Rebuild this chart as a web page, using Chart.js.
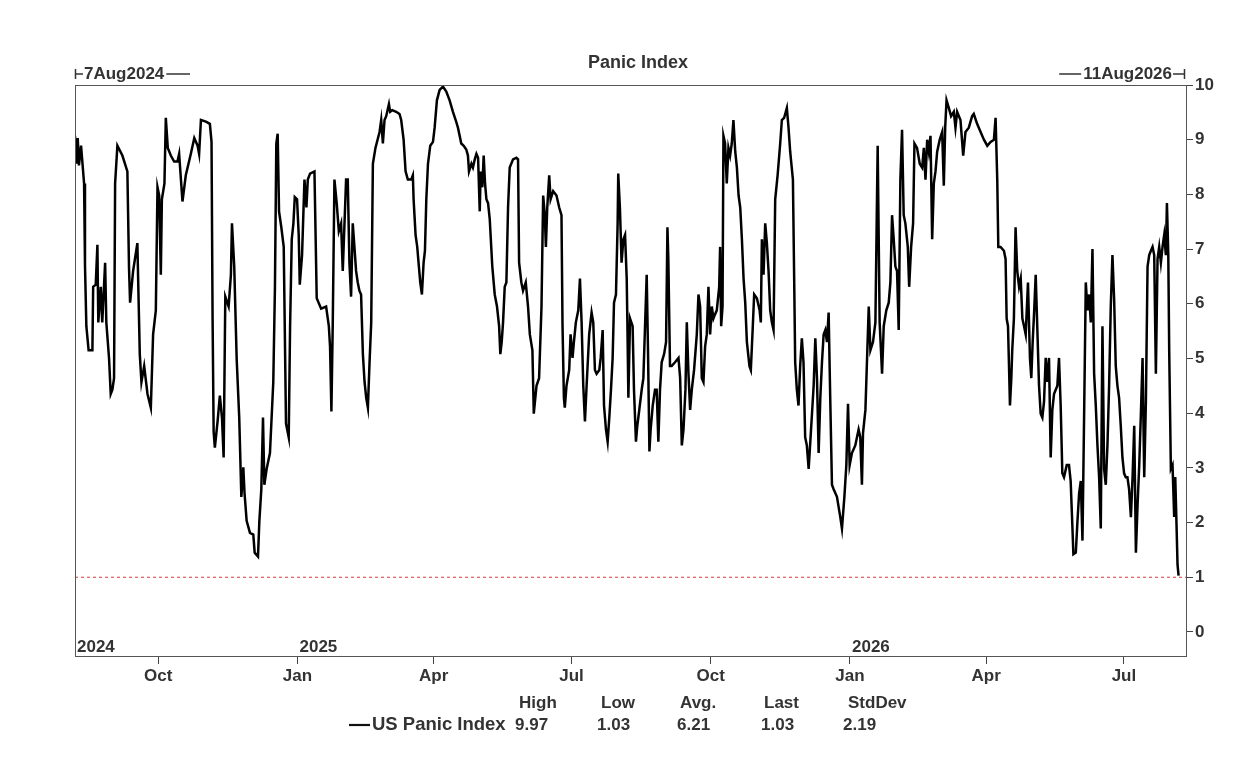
<!DOCTYPE html>
<html><head><meta charset="utf-8">
<script src="https://cdn.jsdelivr.net/npm/chart.js@4.4.1/dist/chart.umd.min.js"></script>
<style>html,body{margin:0;padding:0;background:#fff;}canvas{display:block;}</style>
</head><body>
<canvas id="c" width="1258" height="784"></canvas>
<script>
const chartTitle = "Panic Index";
const startLabel = "7Aug2024";
const endLabel = "11Aug2026";
const seriesName = "US Panic Index";
const totalDays = 734; // 7Aug2024 .. 11Aug2026

// days since 7Aug2024
const days = [
0,0.9,1.8,2.6,4,6,6.6,7.5,9,11.5,
12,13.7,14.8,15.4,17,18,19.9,20.7,22.5,23.6,
24.7,25.8,26.5,28,31.3,34.6,35.7,36.4,38.4,41.2,
42.8,43.9,45.7,47.9,50.1,51.6,53.4,54.5,55.6,56.7,
57.4,59.1,60,61.3,63.3,65.5,67.7,68.8,71,73.2,
76.5,78.8,81,82,83.2,86.5,89.1,90.2,90.9,91.6,
92.4,94.2,95.7,97.1,98.2,99.3,101.5,103,103.7,105.2,
106.8,108.5,109.9,111.2,112,113.4,115.6,117.8,118.7,120.9,
121.8,123.1,124.2,125.1,126.6,128.8,131,132.1,133,133.9,
134.8,136.3,137.9,139.4,141.2,142.1,143.2,144.3,145.2,146.7,
147.8,148.5,150,151.6,152.9,153.8,155.3,158.2,159.7,162.6,
165.9,167.7,168.5,169.4,170.3,171.4,172.9,174.3,175.8,176.9,
179.1,180.2,181.3,182.4,183.5,184.6,185.7,186.8,187.9,189.0,
190.2,191.3,192.4,193.5,194.6,195.7,196.8,198.5,201.2,202.3,
203.4,204.5,205.6,207.4,208.2,209.6,212.2,214.4,215.5,217.1,
218.4,219.9,222.1,223.2,223.7,225.0,226.1,227.2,228.1,229.2,
230.3,231.2,232.1,233.2,234.7,236.5,237.6,239.1,240.9,243.1,
245.3,247.5,249.7,251.5,253.0,255.2,256.8,258.5,259.6,260.3,
261.9,262.9,264.1,265.2,266.3,267.4,268.0,269.1,270.0,270.9,
271.8,272.9,274.0,275.7,277.3,278.8,280.2,281.0,281.9,282.8,
283.9,285.0,286.1,287.2,289.4,291.6,292.7,293.4,294.9,296.0,
297.8,299.3,300.5,302.2,303.1,304.9,306.6,
308.2,309.3,310.4,311.1,312.0,313.3,314.2,315.9,318.1,319.9,
321.4,322.1,323.0,323.6,324.7,326.5,327.4,328.7,329.6,330.9,
332.5,333.6,334.7,335.8,336.9,338.0,339.7,341.3,342.4,343.5,
344.6,346.4,347.3,348.6,349.5,350.8,351.9,353.0,354.1,355.2,
356.1,357.4,358.5,358.9,360.0,361.1,362.3,363.4,364.5,364.9,
365.6,366.7,368.4,369.3,370.6,371.5,372.8,374.4,375.5,376.6,
377.7,378.6,379.5,380.3,381.7,383.2,384.3,385.4,386.5,387.6,
389.2,390.5,391.4,392.0,393.1,394.2,396.4,398.7,399.8,400.9,
402.0,403.3,404.2,405.3,406.4,407.5,409.0,410.8,411.9,413.0,
414.1,415.2,416.3,417.4,418.5,419.6,420.7,421.8,422.9,424.0,
425.6,426.2,426.9,427.8,428.4,429.5,430.6,431.7,432.8,433.9,
435.0,436.2,437.3,438.4,439.5,440.6,441.7,442.8,443.9,445.6,
446.5,447.8,448.7,450.5,452.3,453.1,453.8,454.9,456.0,457.1,
458.2,459.3,460.4,461.5,462.6,464.2,465.9,
467.0,468.5,470.3,471.4,472.5,474.3,475.2,475.8,476.9,478.0,
479.1,480.2,481.3,482.4,483.5,484.7,485.8,486.9,488.0,489.1,
490.2,491.3,492.4,493.5,494.6,495.7,496.8,497.9,499.0,500.1,
501.2,503.4,505.6,506.7,508.3,509.6,510.7,511.8,513.3,515.5,
517.7,518.8,519.9,520.6,522.2,523.3,524.4,525.5,527.2,528.8,
530.3,531.6,533.2,534.3,536.0,537.6,538.7,539.8,540.9,542.0,
543.1,544.2,545.3,546.4,547.5,548.6,550.2,551.1,552.4,553.7,
554.6,556.3,558.1,559.7,560.8,561.9,563.0,564.1,565.2,566.3,
567.4,568.5,569.6,571.3,572.9,574.0,574.9,575.8,577.3,578.8,
580.6,581.7,582.8,585.0,586.8,588.3,590.5,592.7,593.8,596.0,
598.3,600.5,602.7,604.9,
607.1,608.2,609.3,610.0,611.5,613.7,614.8,615.5,616.4,617.0,
617.7,618.6,619.2,620.3,621.4,622.5,623.7,624.8,625.9,627.0,
628.1,629.6,630.9,631.8,632.7,633.6,634.7,635.8,636.9,638.0,
639.1,640.2,641.3,642.4,643.5,644.6,645.7,646.8,649.0,650.1,
651.2,652.3,653.4,655.2,656.7,657.8,658.9,659.6,661.2,662.3,
663.4,664.5,665.6,666.7,667.8,668.9,670.0,671.1,672.2,673.3,
674.4,675.5,676.6,677.7,678.8,679.9,681.0,682.1,683.2,684.3,
685.4,686.5,687.6,688.7,689.8,690.9,692.0,693.1,694.2,695.3,
696.4,697.6,698.7,699.8,700.9,702.0,703.1,704.2,705.3,706.4,
707.5,708.6,709.7,710.8,711.9,713.0,714.1,715.2,716.3,717.4,
718.5,719.6,720.7,721.4,722.3,722.9,724.0,725.1,726.2,726.9,
727.8,728.4,729.1
];

const values = [
9.07,8.56,9.03,8.53,8.89,8.20,6.71,5.59,5.15,5.15,
6.31,6.35,7.08,5.66,6.31,5.66,6.75,5.66,5.00,4.35,
4.43,4.64,8.20,8.89,8.71,8.42,6.64,6.02,6.60,7.11,
5.08,4.57,4.86,4.35,4.10,5.44,5.88,8.13,7.98,6.53,
7.91,8.20,9.40,8.85,8.71,8.60,8.60,8.74,7.87,8.35,
8.74,9.03,8.89,8.74,9.36,9.33,9.29,8.96,5.73,3.66,
3.37,3.85,4.32,3.92,3.19,6.13,5.95,6.53,7.47,6.68,
5.00,3.92,2.47,3.01,2.54,2.03,1.81,1.78,1.45,1.38,
2.03,2.61,3.92,2.69,2.98,3.27,4.57,6.31,8.93,9.11,
7.69,7.40,7.04,3.81,3.56,5.59,7.18,7.47,7.95,7.91,
7.26,6.35,6.89,8.27,7.76,8.27,8.38,8.42,6.10,5.91,
5.95,5.59,5.22,4.03,5.66,8.27,7.84,7.33,7.47,6.60,
8.27,8.27,6.75,6.13,7.47,7.04,6.60,6.39,6.24,6.17,
5.08,4.57,4.28,4.10,4.93,5.66,8.56,8.85,9.14,9.36,
8.93,9.36,9.43,9.65,9.51,9.54,9.51,9.47,9.36,9.00,
8.42,8.27,8.27,8.35,7.91,7.26,7.04,6.68,6.39,6.17,
6.75,6.97,7.91,8.56,8.89,8.96,9.22,9.72,9.91,9.97,
9.88,9.72,9.51,9.36,9.22,8.93,8.89,8.82,8.71,8.42,
8.56,8.49,8.64,8.74,8.67,7.69,8.42,8.13,8.71,8.20,
7.91,7.84,7.55,6.68,6.17,5.95,5.59,5.08,5.30,5.66,
6.31,6.39,7.76,8.49,8.64,8.67,8.64,6.75,6.39,6.24,
6.39,5.95,5.44,5.15,3.99,4.50,4.64,
5.95,7.98,7.62,7.04,7.76,8.35,7.91,8.06,7.98,7.76,
7.62,5.59,4.28,4.10,4.50,4.79,5.44,5.01,5.30,5.66,
5.88,6.46,5.66,4.50,3.85,4.50,5.44,5.84,5.66,4.79,
4.72,4.79,5.01,5.52,4.14,3.70,3.48,3.92,4.43,5.01,
6.02,6.17,7.47,8.38,7.76,6.75,7.18,7.26,6.46,5.73,
4.28,5.73,5.59,4.43,3.48,3.77,4.06,4.43,4.64,5.59,
6.53,5.08,3.30,3.70,4.14,4.43,4.43,3.48,4.43,4.93,
5.08,5.30,7.40,6.82,4.86,4.86,4.93,5.01,4.64,3.41,
3.70,4.43,5.66,4.72,4.06,4.43,4.79,5.44,6.17,5.95,
4.64,4.57,5.22,5.44,6.31,5.44,5.95,5.73,5.81,5.88,
6.31,7.04,5.59,5.95,9.07,8.93,8.20,8.85,8.71,8.93,
9.36,8.78,8.49,7.98,7.76,7.18,6.46,6.02,5.30,4.86,
4.79,5.59,6.17,6.10,5.88,5.66,7.18,6.53,7.47,7.11,
6.60,5.88,5.66,5.52,7.91,8.35,8.93,
9.36,9.40,9.58,9.22,8.78,8.27,6.31,4.93,4.43,4.14,
4.86,5.37,4.93,3.56,3.41,2.98,3.48,3.99,4.50,5.37,
4.64,3.27,4.28,4.93,5.44,5.52,5.30,5.84,4.21,2.69,
2.61,2.47,2.10,1.89,2.47,3.05,4.17,3.05,3.27,3.41,
3.70,3.56,2.69,3.63,4.06,5.01,5.95,5.15,5.30,5.66,
8.89,5.66,4.72,5.59,5.88,6.02,6.39,7.62,7.18,6.68,
6.60,5.52,8.27,9.18,7.62,7.47,7.04,6.31,7.04,7.47,
8.93,8.85,8.56,8.49,8.85,8.27,9.00,8.78,9.07,7.18,
8.20,8.42,8.78,9.00,9.14,8.16,9.22,9.72,9.58,9.43,
9.51,9.22,9.51,9.36,8.71,9.14,9.22,9.43,9.47,9.29,
9.14,9.00,8.89,8.96,
9.00,9.40,8.27,7.04,7.04,6.97,6.82,5.73,5.59,4.93,
4.14,4.64,5.15,5.73,7.40,6.60,6.31,6.46,5.73,5.59,
5.44,6.39,5.01,4.64,5.30,5.81,6.53,5.52,4.50,3.99,
3.92,4.21,5.01,4.57,5.01,3.19,4.06,4.35,4.50,5.01,
4.14,2.90,2.83,3.05,3.05,2.76,1.96,1.42,1.45,2.03,
2.54,2.76,1.67,3.99,6.39,5.88,6.17,5.66,7.00,4.72,
4.14,3.41,2.83,1.89,5.59,2.98,2.69,3.41,4.50,5.95,
6.89,6.10,4.86,4.50,4.28,3.77,3.19,2.90,2.83,2.83,
2.61,2.10,2.83,3.77,1.45,2.32,3.05,3.99,5.01,2.83,
4.21,6.68,6.89,6.97,7.04,6.89,4.72,6.82,7.04,6.75,
7.04,7.26,6.89,7.84,6.89,5.15,2.98,3.05,2.10,2.83,
1.89,1.23,1.03
];

const monthTickDays = [55,147,237,328,420,512,602,693];
const monthTickLabels = ["Oct","Jan","Apr","Jul","Oct","Jan","Apr","Jul"];
const yearDays = [0,147,512];
const yearLabels = ["2024","2025","2026"];
const yTicks = [0,1,2,3,4,5,6,7,8,9,10];
const refLevel = 1;
const statNames = ["High","Low","Avg.","Last","StdDev"];
const statValues = ["9.97","1.03","6.21","1.03","2.19"];

const FONT = '"Liberation Sans", Arial, sans-serif';
const TXT = '#333';

const decor = {
  id: 'decor',
  afterDraw(chart) {
    const {ctx, chartArea: a, scales} = chart;
    const xs = scales.x;
    ctx.save();
    // frame
    ctx.strokeStyle = '#555'; ctx.lineWidth = 1;
    ctx.strokeRect(Math.round(a.left) + 0.5, Math.round(a.top) + 0.5, Math.round(a.right - a.left), Math.round(a.bottom - a.top));
    ctx.fillStyle = TXT;
    ctx.font = 'bold 18px ' + FONT;
    ctx.textBaseline = 'middle';
    ctx.textAlign = 'center';
    ctx.fillText(chartTitle, 638, 63);
    // range header
    ctx.font = 'bold 17px ' + FONT;
    const hy = 74;
    ctx.strokeStyle = '#333'; ctx.lineWidth = 1.5;
    ctx.textAlign = 'left';
    const lx = a.left;
    ctx.beginPath();
    ctx.moveTo(lx + 0.5, hy - 5); ctx.lineTo(lx + 0.5, hy + 5);
    ctx.moveTo(lx, hy); ctx.lineTo(lx + 8, hy);
    ctx.stroke();
    ctx.fillText(startLabel, lx + 9, hy);
    let w = ctx.measureText(startLabel).width;
    ctx.beginPath(); ctx.moveTo(lx + 11 + w, hy); ctx.lineTo(190, hy); ctx.stroke();
    const rx = a.right;
    ctx.textAlign = 'right';
    ctx.fillText(endLabel, rx - 14, hy);
    w = ctx.measureText(endLabel).width;
    ctx.beginPath();
    ctx.moveTo(rx - 16 - w, hy); ctx.lineTo(rx - 38 - w, hy);
    ctx.moveTo(rx - 13, hy); ctx.lineTo(rx - 1, hy);
    ctx.moveTo(rx - 1.5, hy - 5); ctx.lineTo(rx - 1.5, hy + 5);
    ctx.stroke();
    // year labels
    ctx.textAlign = 'left';
    ctx.textBaseline = 'alphabetic';
    yearLabels.forEach((t, i) => {
      ctx.fillText(t, xs.getPixelForValue(yearDays[i]) + 2, 652);
    });
    // stats block
    ctx.textBaseline = 'middle';
    const hLeft = [519, 601, 680, 764, 848];
    const vLeft = [515, 597, 677, 761, 843];
    statNames.forEach((t, i) => ctx.fillText(t, hLeft[i], 703));
    statValues.forEach((t, i) => ctx.fillText(t, vLeft[i], 725));
    ctx.strokeStyle = '#111'; ctx.lineWidth = 2.2;
    ctx.beginPath(); ctx.moveTo(349, 725); ctx.lineTo(370, 725); ctx.stroke();
    ctx.font = 'bold 18.5px ' + FONT;
    ctx.fillText(seriesName, 372, 725);
    ctx.restore();
  }
};

const points = days.map((d, i) => ({x: d, y: values[i]}));
const tickFont = {family: FONT, size: 17, weight: 'bold'};

new Chart(document.getElementById('c').getContext('2d'), {
  type: 'line',
  data: {
    datasets: [
      {label: seriesName, data: points, borderColor: '#000', borderWidth: 2.5, pointRadius: 0, tension: 0, fill: false, order: 1},
      {label: 'ref', data: [{x: 0, y: refLevel}, {x: totalDays, y: refLevel}], borderColor: '#d83a3a', borderWidth: 1, borderDash: [3, 3], pointRadius: 0, fill: false, order: 2}
    ]
  },
  options: {
    responsive: false,
    animation: false,
    devicePixelRatio: 1,
    layout: {padding: {left: 75, top: 85, right: 32, bottom: 88}},
    plugins: {legend: {display: false}, title: {display: false}, tooltip: {enabled: false}},
    scales: {
      x: {
        type: 'linear', min: 0, max: totalDays,
        afterBuildTicks: s => { s.ticks = monthTickDays.map(v => ({value: v})); },
        afterFit: s => { s.height = 40; },
        ticks: {autoSkip: false, maxRotation: 0, padding: 2, color: TXT, font: tickFont,
                callback: (v, i) => monthTickLabels[i]},
        grid: {drawOnChartArea: false, drawTicks: true, tickLength: 8, color: '#444'},
        border: {display: false}
      },
      y: {
        position: 'right', min: -0.44, max: 10,
        afterBuildTicks: s => { s.ticks = yTicks.map(v => ({value: v})); },
        afterFit: s => { s.width = 40; },
        ticks: {padding: 2, color: TXT, font: tickFont},
        grid: {drawOnChartArea: false, drawTicks: true, tickLength: 7, color: '#444'},
        border: {display: false}
      }
    }
  },
  plugins: [decor]
});
</script>
</body></html>
